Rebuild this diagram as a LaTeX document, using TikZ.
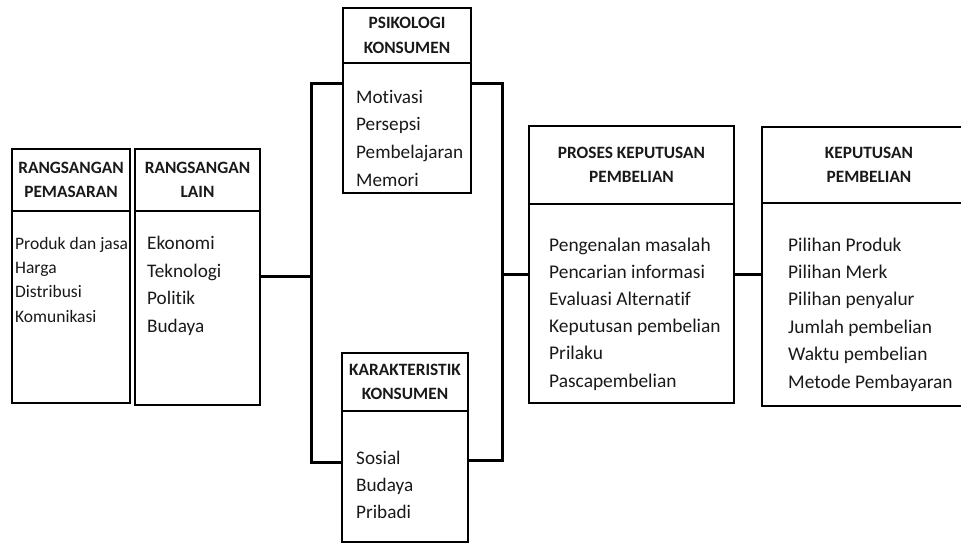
\documentclass[tikz,border=0pt]{standalone}
\usepackage{fontspec}
\setmainfont{Carlito}[Ligatures=NoCommon]
\usetikzlibrary{positioning}

\tikzset{
  kepala/.style={draw=black, line width=2.6pt, inner sep=0pt, outer sep=0pt, anchor=north west,
    align=center, text=black!90, font=\bfseries\fontsize{17.3}{24.5}\selectfont},
  badan/.style={draw=black, line width=2.6pt, inner sep=0pt, outer sep=0pt, anchor=north},
  isi/.style={inner sep=0pt, anchor=base west, align=left, text=black!90,
    font=\fontsize{19.4}{27.2}\selectfont},
  garis/.style={line width=3pt, black}
}

\begin{document}
\begin{tikzpicture}[x=1pt, y=-1pt]
    \useasboundingbox (0,0) rectangle (961,544);
    \clip (0,0) rectangle (961,544);

    % rangsangan pemasaran
    \node[kepala, minimum width=118pt, minimum height=62pt] (rp-h) at (12,149) {RANGSANGAN\\PEMASARAN};
    \node[badan, minimum width=118pt, minimum height=192pt] (rp-b) at (rp-h.south) {};
    \node[isi, font=\fontsize{17.5}{24.3}\selectfont] (rp-t) at (15,322) {Produk dan jasa\\Harga\\Distribusi\\Komunikasi};

    % rangsangan lain
    \node[kepala, minimum width=125pt, minimum height=62pt] (rl-h) at (135,149) {RANGSANGAN\\LAIN};
    \node[badan, minimum width=125pt, minimum height=194pt] (rl-b) at (rl-h.south) {};
    \node[isi, font=\fontsize{19.2}{27.4}\selectfont] (rl-t) at (147,332) {Ekonomi\\Teknologi\\Politik\\Budaya};

    % psikologi konsumen
    \node[kepala, minimum width=128pt, minimum height=55pt] (pk-h) at (343,8) {PSIKOLOGI\\KONSUMEN};
    \node[badan, minimum width=128pt, minimum height=130pt] (pk-b) at (pk-h.south) {};
    \node[isi, font=\fontsize{19.2}{27.6}\selectfont] (pk-t) at (356,186) {Motivasi\\Persepsi\\Pembelajaran\\Memori};

    % karakteristik konsumen
    \node[kepala, minimum width=126pt, minimum height=58pt] (kk-h) at (342,353) {KARAKTERISTIK\\KONSUMEN};
    \node[badan, minimum width=126pt, minimum height=131pt] (kk-b) at (kk-h.south) {};
    \node[isi, font=\fontsize{19.2}{26.8}\selectfont] (kk-t) at (356,518) {Sosial\\Budaya\\Pribadi};

    % proses keputusan pembelian
    \node[kepala, minimum width=205pt, minimum height=78pt] (pkp-h) at (529,126) {PROSES KEPUTUSAN\\PEMBELIAN};
    \node[badan, minimum width=205pt, minimum height=199pt] (pkp-b) at (pkp-h.south) {};
    \node[isi] (pkp-t) at (549,387) {Pengenalan masalah\\Pencarian informasi\\Evaluasi Alternatif\\Keputusan pembelian\\Prilaku\\Pascapembelian};

    % keputusan pembelian
    \node[kepala, minimum width=214pt, minimum height=76pt] (kp-h) at (762,127) {KEPUTUSAN\\PEMBELIAN};
    \node[badan, minimum width=214pt, minimum height=203pt] (kp-b) at (kp-h.south) {};
    \node[isi, font=\fontsize{19.4}{27.4}\selectfont] (kp-t) at (788,388) {Pilihan Produk\\Pilihan Merk\\Pilihan penyalur\\Jumlah pembelian\\Waktu pembelian\\Metode Pembayaran};

    % garis penghubung
    \coordinate (ki-tengah) at (311,276);
    \coordinate (ki-atas) at (311,83);
    \coordinate (ki-bawah) at (311,462);
    \coordinate (ka-atas) at (502,83);
    \coordinate (ka-bawah) at (502,460);
    \coordinate (ka-tengah) at (502,274);

    \draw[garis] (rl-b.east |- ki-tengah) -- (ki-tengah);
    \draw[garis] (pk-b.west |- ki-atas) -- (ki-atas) -- (ki-bawah) -- (kk-b.west |- ki-bawah);
    \draw[garis] (pk-b.east |- ka-atas) -- (ka-atas) -- (ka-bawah) -- (kk-b.east |- ka-bawah);
    \draw[garis] (ka-tengah) -- (pkp-b.west |- ka-tengah);
    \draw[garis] (pkp-b.east |- ka-tengah) -- (kp-b.west |- ka-tengah);
\end{tikzpicture}
\end{document}
